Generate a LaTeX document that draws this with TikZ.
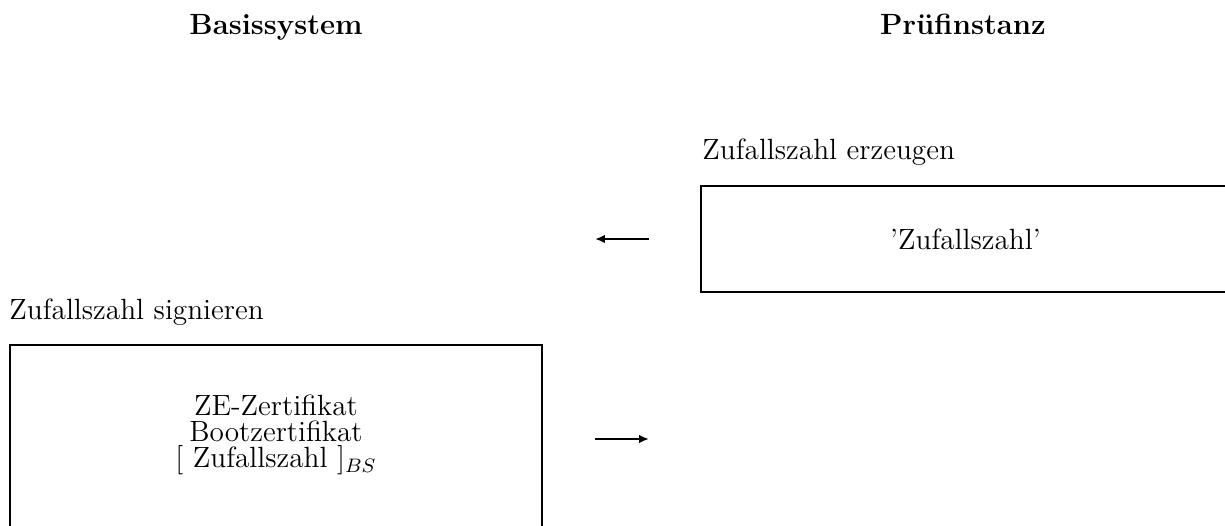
\documentclass[tikz,border=0pt]{standalone}
\usetikzlibrary{arrows.meta,fit}
\begin{document}
\begin{tikzpicture}[x=0.41pt,y=-0.41pt,
  every node/.style={font=\fontsize{12}{14.5}\selectfont, inner sep=0pt},
  title/.style={font=\fontsize{12}{14.5}\selectfont\bfseries},
  frame/.style={draw, line width=0.9pt, inner sep=0pt},
  msg/.style={line width=0.9pt, -{Latex[length=4pt,width=3.4pt]}}]
\useasboundingbox (0,0) rectangle (1225,525);

% column headings
\node[title, anchor=base] (bs) at (276,34) {Basissystem};
\node[title, anchor=base] (pi) at (963,34) {Prüfinstanz};

% step of the checking instance
\node[anchor=base west] (erz) at (702,159) {Zufallszahl erzeugen};
\coordinate (r1) at (701,186);
\coordinate (r2) at (1230,292);
\node[frame, fit=(r1)(r2)] (rbox) {};
\node (zz) at (rbox.center) {'Zufallszahl'};

% step of the base system
\node[anchor=base west] (sig) at (9,319) {Zufallszahl signieren};
\coordinate (l1) at (10,345);
\coordinate (l2) at (542,532);
\node[frame, fit=(l1)(l2)] (lbox) {};
\node[align=center, font=\fontsize{12}{10.8}\selectfont] (lt) at (276,435)
  {ZE-Zertifikat\\Bootzertifikat\\{[}~Zufallszahl~{]}$_{BS}$};

% messages between the two parties
\coordinate (m1a) at (649,239);
\coordinate (m1b) at (595,239);
\draw[msg] (m1a) -- (m1b);
\coordinate (m2a) at (595,439);
\coordinate (m2b) at (649,439);
\draw[msg] (m2a) -- (m2b);
\end{tikzpicture}
\end{document}
